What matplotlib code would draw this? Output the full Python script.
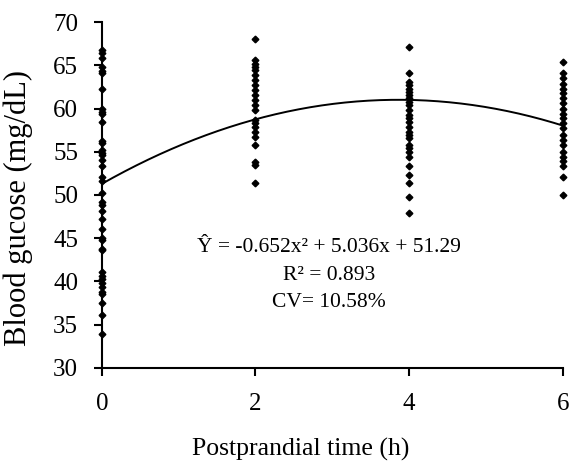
"""
blood glucose vs postprandial time, scatter with quadratic fit
"""
import matplotlib.pyplot as plt
import numpy as np

plt.rcParams["font.family"] = ["Liberation Serif", "DejaVu Serif"]

# data
y_t0 = [66.8, 66.4, 65.9, 64.8, 64.4, 64.1, 62.3, 59.9, 59.6, 59.4, 58.5,
        56.3, 56.0, 55.2, 54.9, 54.6, 54.1, 53.3, 52.1, 51.6, 50.2, 49.2,
        48.9, 48.2, 47.2, 46.1, 45.0, 44.8, 43.8, 43.6, 41.1, 40.6, 40.3,
        39.8, 39.4, 38.8, 38.5, 37.5, 36.1, 33.9]
y_t2 = [68.1, 65.6, 65.2, 64.8, 64.5, 63.9, 63.3, 62.7, 62.1, 61.6, 61.0,
        60.4, 59.8, 58.7, 58.3, 57.9, 57.3, 56.7, 55.8, 53.8, 53.5, 51.4]
y_t4 = [67.1, 64.1, 63.1, 62.7, 62.3, 61.9, 61.6, 61.2, 60.8, 60.4, 59.8,
        59.2, 58.9, 58.5, 57.9, 57.3, 56.9, 56.6, 55.8, 55.4, 55.0, 54.4,
        53.3, 52.3, 51.4, 49.8, 47.9]
y_t6 = [65.4, 64.1, 63.5, 62.9, 62.3, 61.8, 61.2, 60.6, 60.0, 59.4, 58.9,
        58.3, 57.7, 56.9, 56.4, 55.8, 55.0, 54.4, 53.9, 53.3, 52.1, 50.0]
times = [0, 2, 4, 6]
groups = [y_t0, y_t2, y_t4, y_t6]

# fitted coefficients as printed on the chart
a, b, c = -0.652, 5.036, 51.29

fig = plt.figure(figsize=(5.69, 4.71), dpi=100)
ax = fig.add_axes([0.179, 0.219, 0.81, 0.734])

for t, ys in zip(times, groups):
    ax.plot([t] * len(ys), ys, "D", color="black", markersize=3.4,
            clip_on=False, zorder=3)

xs = np.linspace(0, 6, 200)
ax.plot(xs, a * xs**2 + b * xs + c, color="black", lw=1.4)

ax.set_xlim(0, 6)
ax.set_ylim(30, 70)
ax.set_xticks(times)
ax.set_yticks(np.arange(30, 71, 5))
ax.spines["top"].set_visible(False)
ax.spines["right"].set_visible(False)
for s in ("left", "bottom"):
    ax.spines[s].set_linewidth(1.5)
ax.tick_params(direction="out", length=6, width=1.5, labelsize=18)
ax.tick_params(axis="x", pad=12)
ax.tick_params(axis="y", pad=11)

ax.set_xlabel("Postprandial time (h)", fontsize=18.5)
ax.set_ylabel("Blood gucose (mg/dL)", fontsize=22)
ax.xaxis.set_label_coords(0.432, -0.202)
ax.yaxis.set_label_coords(-0.150, 0.462)

ax.text(2.96, 45.0, "Ŷ = -0.652x² + 5.036x + 51.29\nR² = 0.893\nCV= 10.58%",
        ha="center", va="top", fontsize=15.5, linespacing=1.6)

plt.savefig("out.png", dpi=100)
